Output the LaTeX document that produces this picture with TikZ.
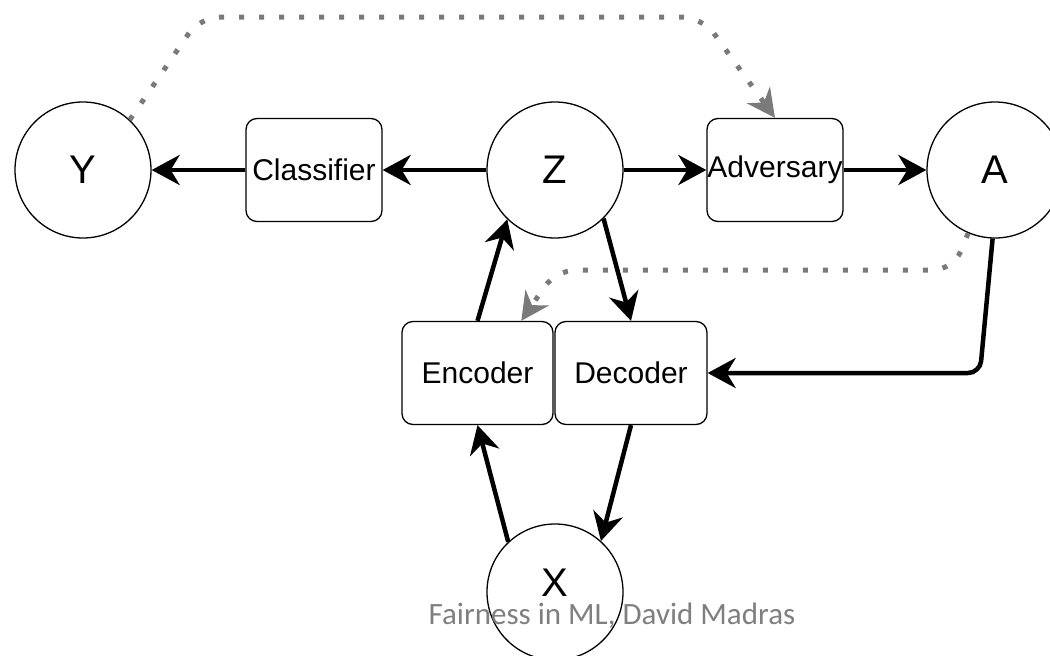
\documentclass[tikz,border=0pt]{standalone}
\usepackage{fontspec}
\setmainfont{Liberation Sans}
\newfontfamily\notefont{Carlito}
\usepackage{xcolor}
\usetikzlibrary{arrows.meta}
\definecolor{dot_gray}{HTML}{7A7A7A}
\definecolor{note_gray}{HTML}{7F7F7F}

\begin{document}
\begin{tikzpicture}[
                x=1pt,
                y=-1pt,
                line join=round,
                var/.style={circle, draw, line width=1.3pt, minimum size=136pt, inner sep=0pt,
                    font=\fontsize{40}{48}\selectfont},
                block/.style={rectangle, rounded corners=11pt, draw, line width=1.3pt,
                    minimum width=136pt, minimum height=103pt, inner sep=0pt,
                    font=\fontsize{30}{36}\selectfont},
                flow/.style={line width=4.5pt, -{Stealth[length=28pt, width=30pt, inset=9pt]}},
                leak/.style={dot_gray, line width=5pt, dash pattern=on 5pt off 15pt,
                    rounded corners=20pt, -{Stealth[length=28pt, width=28pt, inset=9pt]}},
            ]
            % Page size
            \useasboundingbox (0,0) rectangle (1050,656);

            % Variables and networks
            \node[var] (Y) at (83,170) {Y};
            \node[block] (classifier) at (314,170) {Classifier};
            \node[var] (Z) at (555,170) {Z};
            \node[block] (adversary) at (775,170) {Adversary};
            \node[var] (A) at (995,170) {A};
            \node[block, minimum width=151pt] (encoder) at (477.5,373) {Encoder};
            \node[block, minimum width=152pt] (decoder) at (631,373) {Decoder};
            \node[var] (X) at (555,592) {\raisebox{-4pt}[0pt][0pt]{X}};

            % Bend points
            \coordinate (bend) at (980,373);
            \coordinate (topL) at (200,17);
            \coordinate (topR) at (702,17);
            \coordinate (midR) at (953,270);
            \coordinate (midL) at (556,270);

            % Solid arrows
            \draw[flow] (classifier) -- (Y);
            \draw[flow] (Z) -- (classifier);
            \draw[flow] (Z) -- (adversary);
            \draw[flow] (adversary) -- (A);
            \draw[flow] (encoder.north) -- (Z.226);
            \draw[flow] (Z.315) -- (decoder.north);
            \draw[flow] (X.133) -- (encoder.south);
            \draw[flow] (decoder.south) -- (X.48);
            \draw[flow, rounded corners=12pt] (A.268) -- (bend) -- (decoder.east);

            % Dotted arrows
            \draw[leak] (Y.47) -- (topL) -- (topR) -- (adversary.north);
            \draw[leak] (A.247) -- (midR) -- (midL) -- (encoder.50);

            % Credit
            \node[font=\notefont\fontsize{31}{36}\selectfont, text=note_gray, anchor=base]
                (credit) at (612,624) {Fairness in ML, David Madras};
        \end{tikzpicture}
\end{document}
